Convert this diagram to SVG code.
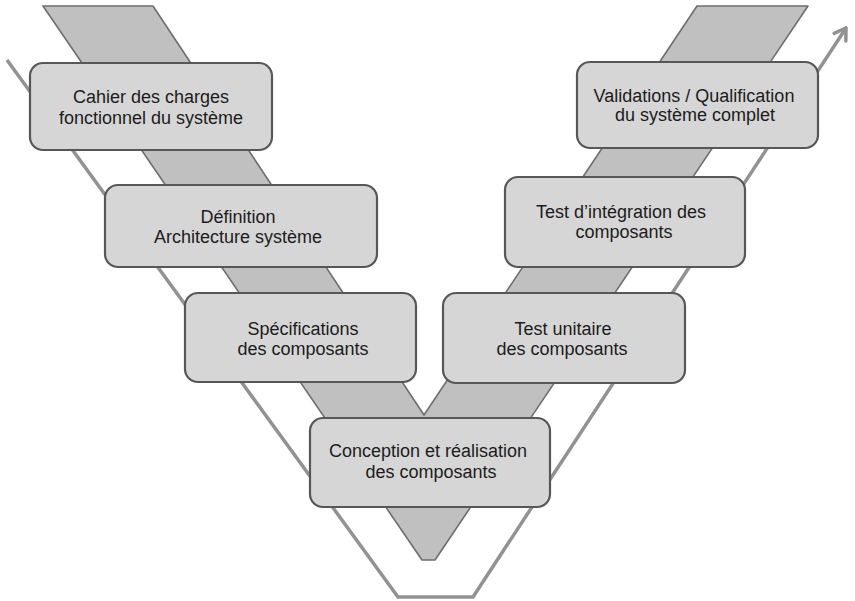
<svg xmlns="http://www.w3.org/2000/svg" width="855" height="601" viewBox="0 0 855 601">
<defs>
<style>
.box{fill:#d6d6d6;stroke:#575757;stroke-width:2.2}
.lbl{font-family:"Liberation Sans",Arial,sans-serif;font-size:18px;fill:#1c1c1c;text-anchor:middle}
.band{fill:#c0c0c0;stroke:#6e6e6e;stroke-width:1.6;stroke-linejoin:round}
.vline{fill:none;stroke:#929292;stroke-width:3.5;stroke-linejoin:miter}
</style>
<marker id="arr" viewBox="-14 -9 16 18" markerWidth="16" markerHeight="18" refX="0" refY="0" orient="auto" markerUnits="userSpaceOnUse">
<path d="M-11,-7 L0,0 L-11,7" fill="none" stroke="#929292" stroke-width="3.5" stroke-linecap="round" stroke-linejoin="miter"/>
</marker>
</defs>
<rect width="855" height="601" fill="#ffffff"/>
<g id="band">
<polygon class="band" points="43,6 153,6 424,415 697,6 808,6 435,560 422,560"/>
</g>
<g id="connectors">
<path class="vline" d="M7,60 L398,597 L473,597 L846,28" marker-end="url(#arr)"/>
</g>
<g id="n1">
<rect class="box" x="30" y="63" width="242" height="87" rx="13"/>
<text class="lbl" x="151" y="103">Cahier des charges</text>
<text class="lbl" x="151" y="124">fonctionnel du système</text>
</g>
<g id="n2">
<rect class="box" x="105" y="185" width="272" height="82" rx="13"/>
<text class="lbl" x="238" y="223">Définition</text>
<text class="lbl" x="238" y="243">Architecture système</text>
</g>
<g id="n3">
<rect class="box" x="185" y="293" width="231" height="89" rx="13"/>
<text class="lbl" x="303" y="335">Spécifications</text>
<text class="lbl" x="303" y="355">des composants</text>
</g>
<g id="n4">
<rect class="box" x="310" y="418" width="240" height="89" rx="13"/>
<text class="lbl" x="428" y="457">Conception et réalisation</text>
<text class="lbl" x="431" y="478">des composants</text>
</g>
<g id="n5">
<rect class="box" x="443" y="293" width="242" height="90" rx="13"/>
<text class="lbl" x="563" y="335">Test unitaire</text>
<text class="lbl" x="562" y="355">des composants</text>
</g>
<g id="n6">
<rect class="box" x="505" y="177" width="240" height="90" rx="13"/>
<text class="lbl" x="621" y="218">Test d’intégration des</text>
<text class="lbl" x="624" y="238">composants</text>
</g>
<g id="n7">
<rect class="box" x="577" y="62" width="241" height="86" rx="13"/>
<text class="lbl" x="694" y="102">Validations / Qualification</text>
<text class="lbl" x="695" y="121">du système complet</text>
</g>
</svg>
